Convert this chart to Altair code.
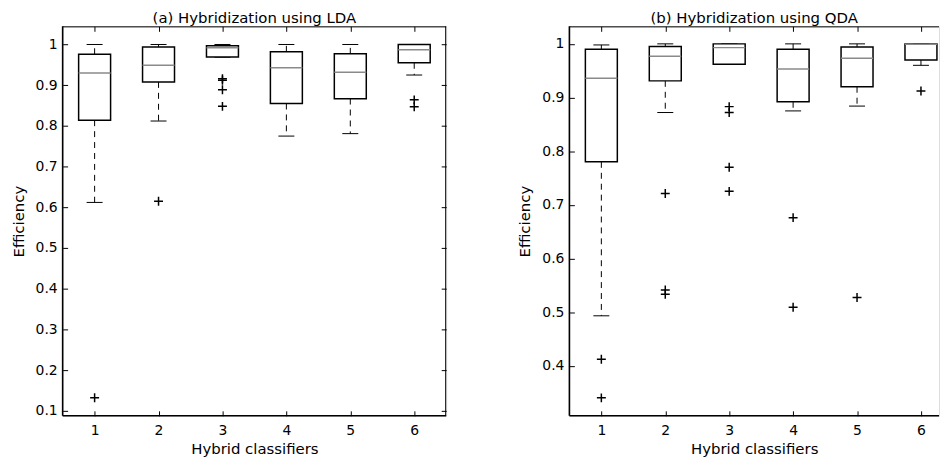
import altair as alt
import pandas as pd

classes = [1, 2, 3, 4, 5, 6]

# (a) Hybridization using LDA
lda_upper = [1.000, 1.000, 1.000, 1.000, 1.000, 1.000]
lda_q3 = [0.976, 0.994, 0.997, 0.982, 0.977, 1.000]
lda_median = [0.930, 0.949, 0.992, 0.943, 0.932, 0.987]
lda_q1 = [0.814, 0.908, 0.969, 0.855, 0.867, 0.955]
lda_lower = [0.612, 0.812, 0.969, 0.775, 0.781, 0.925]
lda_out_class = [1, 2, 3, 3, 3, 3, 6, 6]
lda_out_value = [0.132, 0.615, 0.916, 0.912, 0.889, 0.848, 0.864, 0.847]

# (b) Hybridization using QDA
qda_upper = [0.998, 1.000, 1.000, 1.000, 1.000, 1.000]
qda_q3 = [0.990, 0.995, 1.000, 0.990, 0.994, 1.000]
qda_median = [0.936, 0.977, 0.993, 0.953, 0.973, 0.9995]
qda_q1 = [0.780, 0.931, 0.962, 0.892, 0.920, 0.970]
qda_lower = [0.493, 0.872, 0.962, 0.875, 0.884, 0.960]
qda_out_class = [1, 1, 2, 2, 2, 3, 3, 3, 3, 4, 4, 5, 6]
qda_out_value = [0.412, 0.340, 0.721, 0.541, 0.533, 0.883, 0.872, 0.770, 0.725,
                 0.676, 0.509, 0.527, 0.912]

lda_ticks = [0.1, 0.2, 0.3, 0.4, 0.5, 0.6, 0.7, 0.8, 0.9, 1.0]
qda_ticks = [0.4, 0.5, 0.6, 0.7, 0.8, 0.9, 1.0]
x_ticks = [1, 2, 3, 4, 5, 6]

H = 392
W_LEFT = 386
W_RIGHT = 372          # the right panel is cut at the page edge
PX_PER_UNIT = W_LEFT / 6.0
FONT = "DejaVu Sans"
TICK_FS = 14
TITLE_FS = 15


def panel(title, upper, q3, median, q1, lower, oc, ov, ydom, yticks, width,
          right_border):
    df = pd.DataFrame({"cls": classes, "upper": upper, "q3": q3,
                       "median": median, "q1": q1, "lower": lower})
    df["box_lo"] = df["cls"] - 0.25
    df["box_hi"] = df["cls"] + 0.25
    df["cap_lo"] = df["cls"] - 0.125
    df["cap_hi"] = df["cls"] + 0.125
    out = pd.DataFrame({"cls": oc, "val": ov})
    one = pd.DataFrame({"k": [0]})

    xs = alt.Scale(domain=[0.5, 0.5 + width / PX_PER_UNIT], nice=False, zero=False)
    ys = alt.Scale(domain=ydom, nice=False, zero=False)

    base = alt.Chart(df)

    x_bottom = alt.Axis(orient="bottom", values=x_ticks, format="d", tickSize=5,
                        offset=-5, domain=False, grid=False, labelPadding=8,
                        labelFontSize=TICK_FS, labelFont=FONT, labelColor="black",
                        tickColor="black", title="Hybrid classifiers",
                        titleFontSize=TITLE_FS, titleFont=FONT,
                        titleFontWeight="normal", titleColor="black", titlePadding=4)
    y_left = alt.Axis(orient="left", values=yticks, format="~g", tickSize=5,
                      offset=-5, domain=False, grid=False, labelPadding=5.5,
                      labelFontSize=TICK_FS, labelFont=FONT, labelColor="black",
                      tickColor="black", title="Efficiency",
                      titleFontSize=TITLE_FS, titleFont=FONT,
                      titleFontWeight="normal", titleColor="black", titlePadding=9)
    x_top = alt.Axis(orient="top", values=x_ticks, tickSize=5, offset=-5,
                     domain=False, grid=False, labels=False, title=None,
                     tickColor="black")
    if right_border:
        y_right = alt.Axis(orient="right", values=yticks, tickSize=5, offset=-5,
                           domain=False, grid=False, labels=False, title=None,
                           tickColor="black")
    else:
        y_right = None

    whisk_up = base.mark_rule(color="black", strokeWidth=1, strokeDash=[6, 5]).encode(
        x=alt.X("cls:Q", scale=xs, axis=x_bottom),
        y=alt.Y("q3:Q", scale=ys, axis=y_left),
        y2="upper:Q")
    whisk_lo = base.mark_rule(color="black", strokeWidth=1, strokeDash=[6, 5]).encode(
        x=alt.X("cls:Q", scale=xs, axis=None),
        y=alt.Y("q1:Q", scale=ys, axis=None),
        y2="lower:Q")
    cap_up = base.mark_rule(color="black", strokeWidth=1).encode(
        x=alt.X("cap_lo:Q", scale=xs, axis=None), x2="cap_hi:Q",
        y=alt.Y("upper:Q", scale=ys, axis=None))
    cap_lo = base.mark_rule(color="black", strokeWidth=1).encode(
        x=alt.X("cap_lo:Q", scale=xs, axis=None), x2="cap_hi:Q",
        y=alt.Y("lower:Q", scale=ys, axis=None))
    box = base.mark_rect(fill="white", stroke="black", strokeWidth=1.5).encode(
        x=alt.X("box_lo:Q", scale=xs, axis=None), x2="box_hi:Q",
        y=alt.Y("q1:Q", scale=ys, axis=None), y2="q3:Q")
    med = base.mark_rule(color="#8a8a8a", strokeWidth=1.5).encode(
        x=alt.X("box_lo:Q", scale=xs, axis=None), x2="box_hi:Q",
        y=alt.Y("median:Q", scale=ys, axis=None))
    pts = alt.Chart(out).mark_point(shape="M-1,0L1,0M0,-1L0,1", filled=False,
                                    stroke="black", strokeWidth=1.5, size=81,
                                    opacity=1).encode(
        x=alt.X("cls:Q", scale=xs, axis=x_top),
        y=alt.Y("val:Q", scale=ys, axis=y_right))

    frame = [
        alt.Chart(one).mark_rule(color="black", strokeWidth=1.6).encode(
            x=alt.value(0), y=alt.value(0), y2=alt.value(H)),
        alt.Chart(one).mark_rule(color="black", strokeWidth=1.6).encode(
            x=alt.value(0), x2=alt.value(width), y=alt.value(H)),
        alt.Chart(one).mark_rule(color="black", strokeWidth=1).encode(
            x=alt.value(0), x2=alt.value(width), y=alt.value(0.5)),
    ]
    if right_border:
        frame.append(alt.Chart(one).mark_rule(color="black", strokeWidth=1).encode(
            x=alt.value(width - 0.5), y=alt.value(0), y2=alt.value(H)))

    return alt.layer(whisk_up, whisk_lo, cap_up, cap_lo, box, med, pts,
                     *frame).resolve_axis(
        x="independent", y="independent").properties(
        width=width, height=H,
        title=alt.TitleParams(title, fontSize=TITLE_FS, font=FONT,
                              fontWeight="normal", color="black",
                              anchor="middle", offset=0))


left = panel("(a) Hybridization using LDA", lda_upper, lda_q3, lda_median, lda_q1,
             lda_lower, lda_out_class, lda_out_value, [0.0878, 1.0446], lda_ticks,
             W_LEFT, True)
right = panel("(b) Hybridization using QDA", qda_upper, qda_q3, qda_median, qda_q1,
              qda_lower, qda_out_class, qda_out_value, [0.3065, 1.0327], qda_ticks,
              W_RIGHT, False)

chart = alt.hconcat(left, right, spacing=69).properties(
    padding={"left": 2, "top": 0, "right": 0, "bottom": 0}
).configure_view(stroke="transparent").configure(background="white")

chart.save("out.html", embed_options={"renderer": "svg", "actions": False})
